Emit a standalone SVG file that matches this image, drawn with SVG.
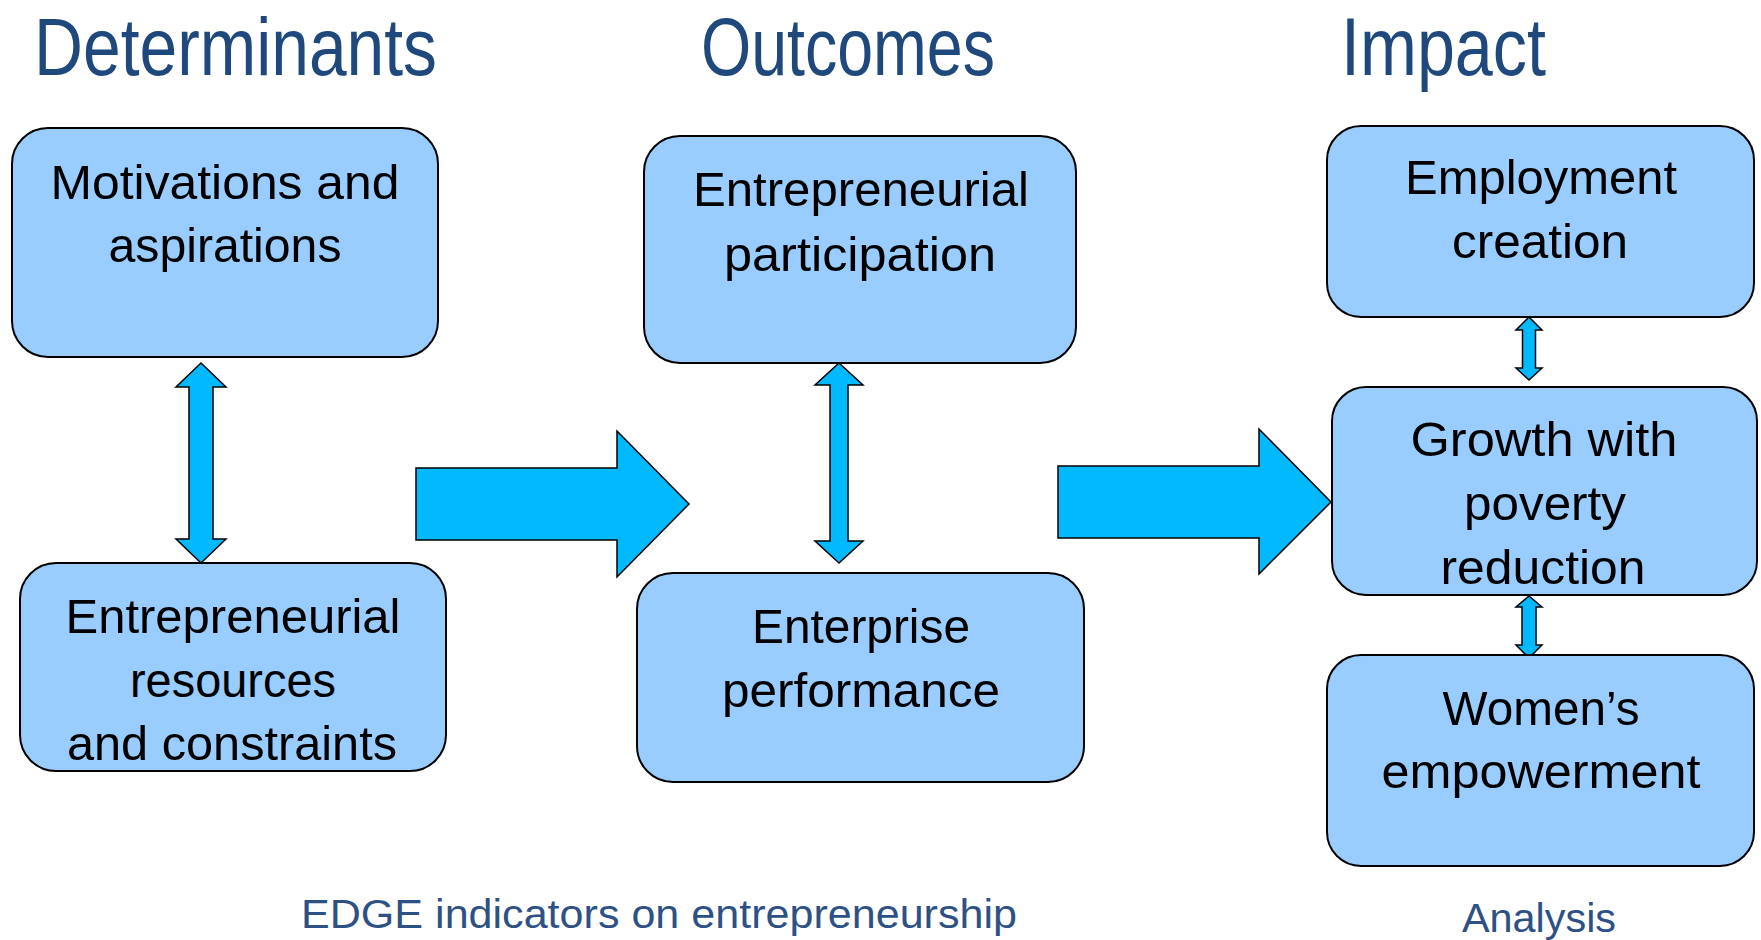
<svg xmlns="http://www.w3.org/2000/svg" width="1761" height="940" viewBox="0 0 1761 940">
<style>
.title{font-family:"Liberation Sans",Arial,sans-serif;font-size:82px;fill:#1F497D;}
.box{fill:#99CCFF;stroke:#000;stroke-width:2;}
.lbl{font-family:"Liberation Sans",Arial,sans-serif;font-size:49px;fill:#000;text-anchor:middle;}
.arr{fill:#00B9FF;stroke:#000;stroke-width:1.5;stroke-linejoin:miter;}
.foot{font-family:"Liberation Sans",Arial,sans-serif;font-size:40px;fill:#2E5185;}
</style>
<rect width="1761" height="940" fill="#fff"/>
<g id="titles">
<text class="title" x="34" y="75" textLength="403" lengthAdjust="spacingAndGlyphs">Determinants</text>
<text class="title" x="701" y="75" textLength="294" lengthAdjust="spacingAndGlyphs">Outcomes</text>
<text class="title" x="1341" y="75" textLength="205" lengthAdjust="spacingAndGlyphs">Impact</text>
</g>
<g id="connectors">
<polygon class="arr" points="416,468 617,468 617,431 689,504 617,577 617,540 416,540"/>
<polygon class="arr" points="1058,466 1259,466 1259,429 1331,502 1259,574 1259,538 1058,538"/>
<polygon class="arr" points="201,363 226,387 213,387 213,539 226,539 201,563 176,539 189,539 189,387 176,387"/>
<polygon class="arr" points="839,363 863,385 848,385 848,541 863,541 839,563 815,541 830,541 830,385 815,385"/>
<polygon class="arr" points="1529,317 1542,330 1535.5,330 1535.5,368 1542,368 1529,380 1516,368 1522.5,368 1522.5,330 1516,330"/>
<polygon class="arr" points="1529,596 1542,607 1536,607 1536,645 1542,645 1529,658 1516,645 1522,645 1522,607 1516,607"/>
</g>
<g id="motivations">
<rect class="box" x="12" y="128" width="426" height="229" rx="36" ry="36"/>
<text class="lbl" x="225" y="199" textLength="349" lengthAdjust="spacingAndGlyphs">Motivations and</text>
<text class="lbl" x="225" y="262" textLength="233" lengthAdjust="spacingAndGlyphs">aspirations</text>
</g>
<g id="resources">
<rect class="box" x="20" y="563" width="426" height="208" rx="36" ry="36"/>
<text class="lbl" x="233" y="633" textLength="335" lengthAdjust="spacingAndGlyphs">Entrepreneurial</text>
<text class="lbl" x="233" y="697" textLength="206" lengthAdjust="spacingAndGlyphs">resources</text>
<text class="lbl" x="232" y="760" textLength="330" lengthAdjust="spacingAndGlyphs">and constraints</text>
</g>
<g id="participation">
<rect class="box" x="644" y="136" width="432" height="227" rx="36" ry="36"/>
<text class="lbl" x="861" y="206" textLength="336" lengthAdjust="spacingAndGlyphs">Entrepreneurial</text>
<text class="lbl" x="860" y="271" textLength="272" lengthAdjust="spacingAndGlyphs">participation</text>
</g>
<g id="performance">
<rect class="box" x="637" y="573" width="447" height="209" rx="36" ry="36"/>
<text class="lbl" x="861" y="643" textLength="218" lengthAdjust="spacingAndGlyphs">Enterprise</text>
<text class="lbl" x="861" y="707" textLength="278" lengthAdjust="spacingAndGlyphs">performance</text>
</g>
<g id="employment">
<rect class="box" x="1327" y="126" width="427" height="191" rx="34" ry="34"/>
<text class="lbl" x="1541" y="194" textLength="272" lengthAdjust="spacingAndGlyphs">Employment</text>
<text class="lbl" x="1540" y="258" textLength="176" lengthAdjust="spacingAndGlyphs">creation</text>
</g>
<g id="growth">
<rect class="box" x="1332" y="387" width="425" height="208" rx="34" ry="34"/>
<text class="lbl" x="1544" y="456" textLength="267" lengthAdjust="spacingAndGlyphs">Growth with</text>
<text class="lbl" x="1545" y="520" textLength="162" lengthAdjust="spacingAndGlyphs">poverty</text>
<text class="lbl" x="1543" y="584" textLength="205" lengthAdjust="spacingAndGlyphs">reduction</text>
</g>
<g id="women">
<rect class="box" x="1327" y="655" width="427" height="211" rx="34" ry="34"/>
<text class="lbl" x="1541" y="725" textLength="197" lengthAdjust="spacingAndGlyphs">Women’s</text>
<text class="lbl" x="1541" y="788" textLength="319" lengthAdjust="spacingAndGlyphs">empowerment</text>
</g>
<g id="footer">
<text class="foot" x="301" y="928" textLength="716" lengthAdjust="spacingAndGlyphs">EDGE indicators on entrepreneurship</text>
<text class="foot" x="1462" y="932" textLength="154" lengthAdjust="spacingAndGlyphs">Analysis</text>
</g>
</svg>
